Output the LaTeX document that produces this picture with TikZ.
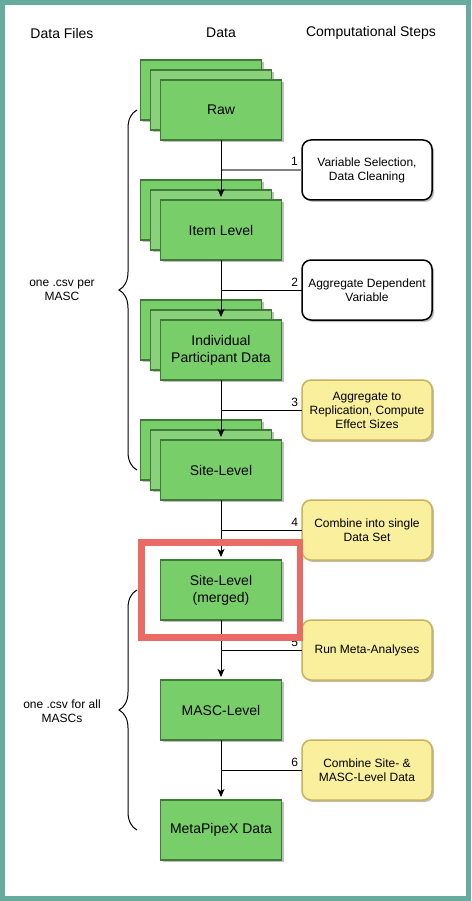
\documentclass[tikz,border=0pt]{standalone}
\usepackage{fontspec}
\setmainfont{Liberation Sans}
\usepackage{tikz}
\usetikzlibrary{arrows.meta,positioning,shadows,decorations.pathreplacing}
\definecolor{frame}{HTML}{67AB9F}
\definecolor{leaf}{HTML}{78CF6A}
\definecolor{leafmid}{HTML}{89D27B}
\definecolor{leafline}{HTML}{3F7A36}
\definecolor{sand}{HTML}{F9EF9C}
\definecolor{sandline}{HTML}{C9B25A}
\definecolor{hilite}{HTML}{EA6B66}

% three sheets, front one named
\newcommand{\stacked}[3]{%
  \node[data, xshift=-20pt, yshift=20pt] at (#2) {};
  \node[data, fill=leafmid, xshift=-10pt, yshift=10pt] at (#2) {};
  \node[data] (#1) at (#2) {#3};}

\begin{document}
\begin{tikzpicture}[x=1pt, y=-1pt, every node/.style={font=\fontsize{12}{14}\selectfont, align=center},
  data/.style={draw=leafline, line width=1.3pt, fill=leaf, minimum width=121pt, minimum height=60pt, outer sep=0pt, font=\fontsize{14}{17}\selectfont, drop shadow={shadow xshift=2pt, shadow yshift=-2pt, opacity=0.25, fill=black}},
  task/.style={draw, line width=1.5pt, fill=white, rounded corners=9pt, minimum width=130pt, minimum height=60pt, outer sep=0pt, drop shadow={shadow xshift=2pt, shadow yshift=-2pt, opacity=0.25, fill=black}},
  taskhi/.style={task, draw=sandline, fill=sand},
  head/.style={font=\fontsize{14}{17}\selectfont},
  arr/.style={-{Stealth[length=8pt,width=7pt,inset=2pt]}, line width=1pt, shorten >=3pt},
  tie/.style={line width=1pt},
  curly/.style={decorate, decoration={brace, amplitude=18pt}, line width=1pt}]
\fill[frame] (0,0) rectangle (471,901);\fill[white] (5,5) rectangle (466,896);
\useasboundingbox (0,0) rectangle (471,901);
\node[head] (hfiles) at (62,33) {Data Files};\node[head] (hdata) at (221,33) {Data};\node[head] (hsteps) at (371,33) {Computational Steps};
% data column
\coordinate (p1) at (221,110);\coordinate[below=120pt of p1] (p2);\coordinate[below=120pt of p2] (p3);\coordinate[below=120pt of p3] (p4);
\stacked{raw}{p1}{Raw}
\stacked{item}{p2}{Item Level}
\stacked{part}{p3}{Individual\\Participant Data}
\stacked{site}{p4}{Site-Level}
\node[data, below=60pt of site] (merged) {Site-Level\\(merged)};
\node[data, below=60pt of merged] (masc) {MASC-Level};
\node[data, below=60pt of masc] (meta) {MetaPipeX Data};
% steps
\node[task] (s1) at (367,170) {Variable Selection,\\Data Cleaning};
\node[task, below=60pt of s1] (s2) {Aggregate Dependent\\Variable};
\node[taskhi, below=60pt of s2] (s3) {Aggregate to\\Replication, Compute\\Effect Sizes};
\node[taskhi, below=60pt of s3] (s4) {Combine into single\\Data Set};
\node[taskhi, below=60pt of s4] (s5) {Run Meta-Analyses};
\node[taskhi, below=60pt of s5] (s6) {Combine Site- \&\\MASC-Level Data};
\draw[tie, gray, line width=1.6pt] (s1.west) -- (s1.west -| raw) node[pos=0, above left] {\color{black}1};
\draw[tie] (s2.west) -- (s2.west -| raw) node[pos=0, above left] {2};
\draw[tie] (s3.west) -- (s3.west -| raw) node[pos=0, above left] {3};
\draw[tie] (s4.west) -- (s4.west -| raw) node[pos=0, above left] {4};
\draw[tie] (s5.west) -- (s5.west -| raw) node[pos=0, above left] {5};
\draw[tie] (s6.west) -- (s6.west -| raw) node[pos=0, above left] {6};
\draw[arr] (raw) -- (item);\draw[arr] (item) -- (part);\draw[arr] (part) -- (site);
\draw[arr] (site) -- (merged);\draw[arr] (merged) -- (masc);\draw[arr] (masc) -- (meta);
% file braces
\coordinate (b1t) at (137,110);\coordinate (b1b) at (137,470);
\coordinate (b2t) at (137,590);\coordinate (b2b) at (137,830);
\draw[curly] (b1b) -- (b1t);\draw[curly] (b2b) -- (b2t);
\node (f1) at (62,290) {one .csv per\\MASC};
\node (f2) at (62,711) {one .csv for all\\MASCs};
% highlight
\draw[hilite, line width=6.5pt] (141.5,542.5) rectangle (300,637.5);
\end{tikzpicture}
\end{document}
